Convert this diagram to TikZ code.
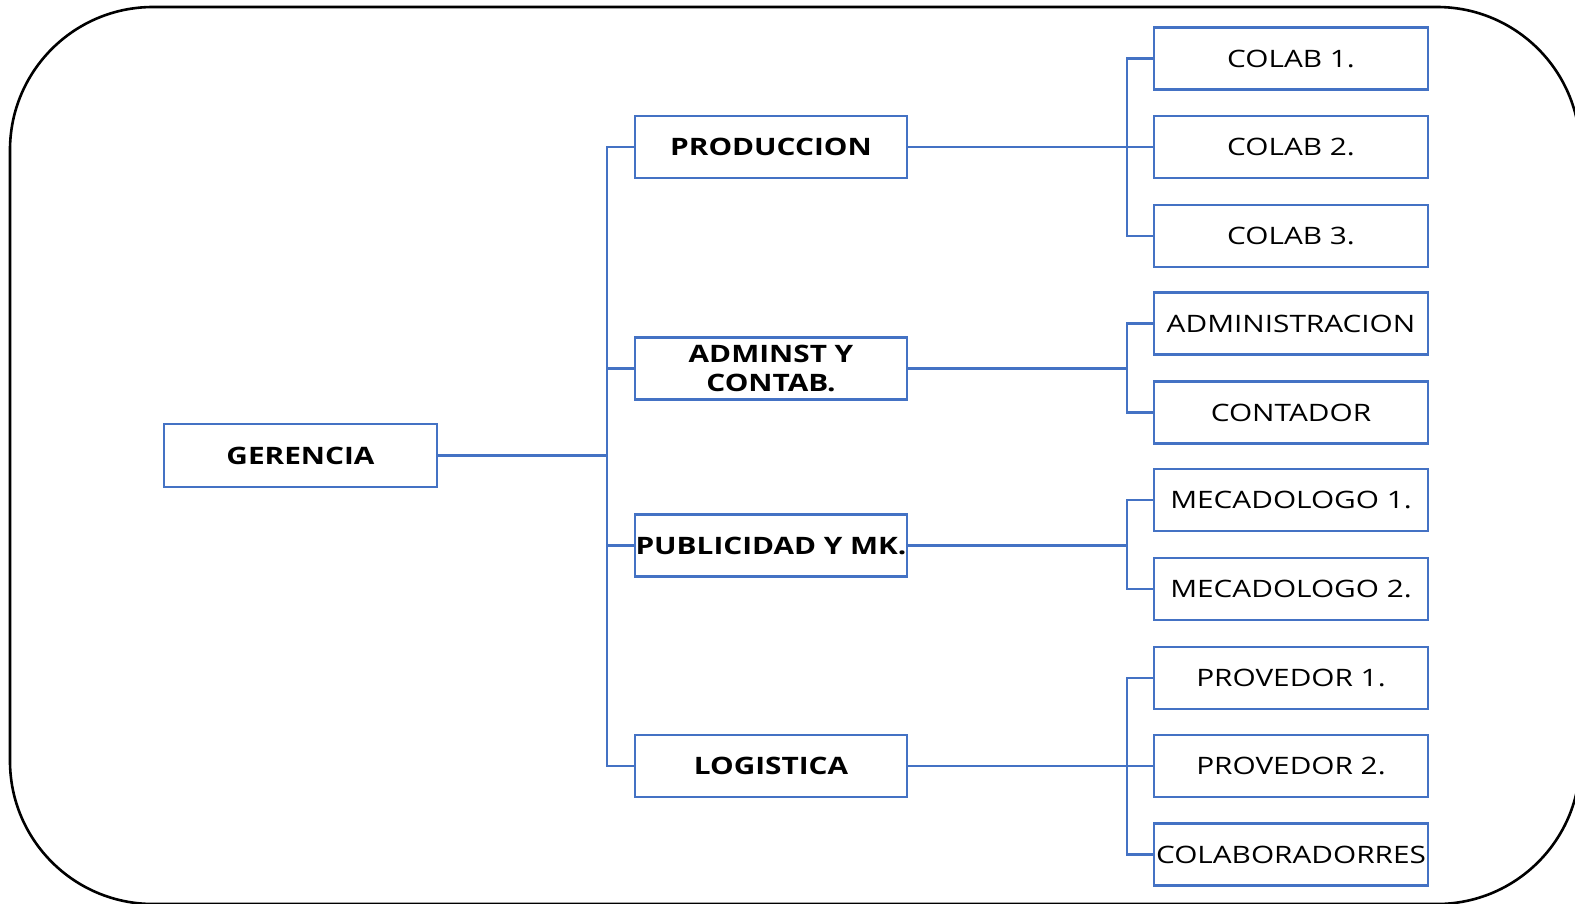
\documentclass[tikz,border=0pt]{standalone}
\usepackage{fontspec}
\setmainfont[FakeStretch=1.24]{Open Sans}
\definecolor{obl}{HTML}{4472C4}
\begin{document}
\begin{tikzpicture}[x=1pt,y=-1pt,
  boxbase/.style={draw=obl,line width=2.2pt,minimum width=272pt,minimum height=62pt,inner sep=0pt,align=center,text=black,font=\fontsize{24}{29}\selectfont},
  midbox/.style={boxbase,font=\fontsize{24}{29}\selectfont\bfseries},
  leafbox/.style={boxbase,minimum width=274pt},
  conn/.style={draw=obl,line width=2.2pt}]
\useasboundingbox (0,0) rectangle (1575,903);
\draw[line width=2.6pt,rounded corners=143pt] (10,7) rectangle (1580,904);
% top
\node[midbox,minimum width=273pt,minimum height=63pt] (ger) at (300.5,455.5) {GERENCIA};
% middle
\node[midbox] (prod) at (771,147) {PRODUCCION};
\node[midbox] (adm) at (771,368.5) {ADMINST Y\\CONTAB.};
\node[midbox] (pub) at (771,545.5) {PUBLICIDAD Y MK.};
\node[midbox] (log) at (771,766) {LOGISTICA};
% leaves
\node[leafbox] (c1) at (1291,58.5) {COLAB 1.};
\node[leafbox] (c2) at (1291,147) {COLAB 2.};
\node[leafbox] (c3) at (1291,236) {COLAB 3.};
\node[leafbox] (a1) at (1291,323.5) {ADMINISTRACION};
\node[leafbox] (a2) at (1291,412.5) {CONTADOR};
\node[leafbox] (m1) at (1291,500) {MECADOLOGO 1.};
\node[leafbox] (m2) at (1291,589) {MECADOLOGO 2.};
\node[leafbox] (p1) at (1291,678) {PROVEDOR 1.};
\node[leafbox] (p2) at (1291,766) {PROVEDOR 2.};
\node[leafbox] (p3) at (1291,854.5) {COLABORADORRES};
% bus coordinates
\coordinate (gbus) at (607,455.5);
\coordinate (prbus) at (1127,147);
\coordinate (adbus) at (1127,368.5);
\coordinate (pubus) at (1127,545.5);
\coordinate (lobus) at (1127,766);
% connectors
\draw[conn] (ger.east) -- (gbus);
\foreach \n in {prod,adm,pub,log} \draw[conn] (\n.west) -| (gbus);
\draw[conn] (prod.east) -- (prbus);
\foreach \n in {c1,c2,c3} \draw[conn] (\n.west) -| (prbus);
\draw[conn] (adm.east) -- (adbus);
\foreach \n in {a1,a2} \draw[conn] (\n.west) -| (adbus);
\draw[conn] (pub.east) -- (pubus);
\foreach \n in {m1,m2} \draw[conn] (\n.west) -| (pubus);
\draw[conn] (log.east) -- (lobus);
\foreach \n in {p1,p2,p3} \draw[conn] (\n.west) -| (lobus);
\end{tikzpicture}
\end{document}
